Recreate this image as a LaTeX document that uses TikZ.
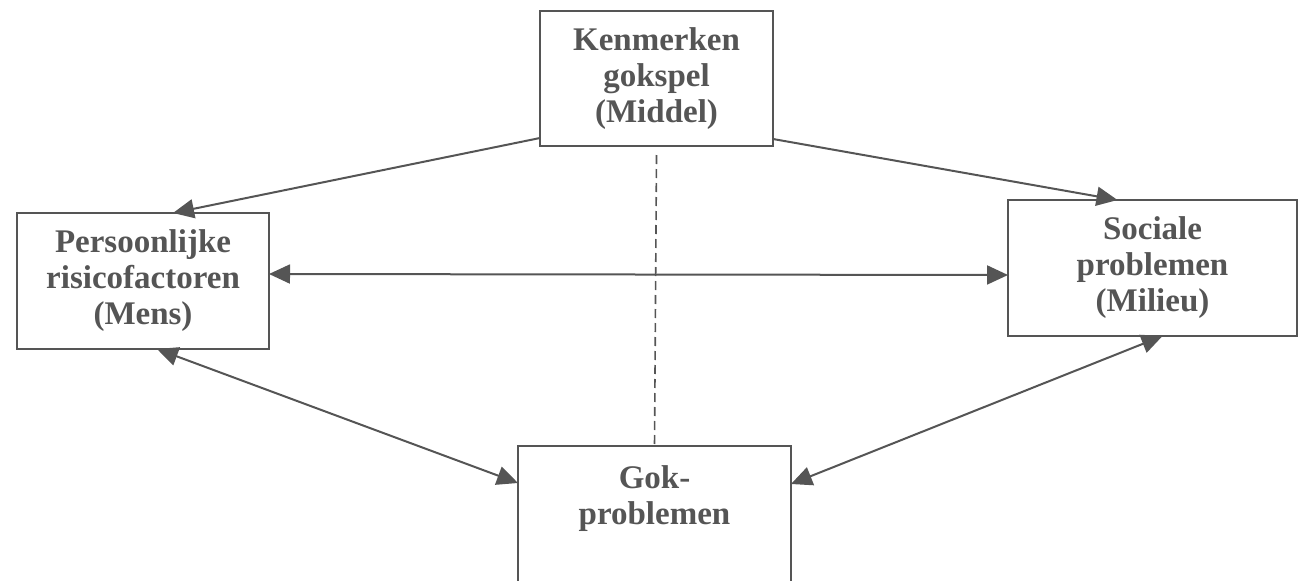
\documentclass[tikz,border=0pt]{standalone}
\usepackage{fontspec}
\setmainfont{Liberation Serif}
\usetikzlibrary{arrows.meta, calc}
\definecolor{ink}{HTML}{555555}
\begin{document}
\begin{tikzpicture}[x = .5pt, y = .5pt, >={Triangle[length=10.5pt,width=9.5pt]},
    boxstyle/.style={draw=ink,line width=1pt,inner sep=0pt,outer sep=0pt,text=ink,align=center,font=\bfseries\fontsize{16.5pt}{18pt}\selectfont},
    linkstyle/.style={draw=ink,line width=1pt}]
    \useasboundingbox (0,0) rectangle (1299,580);
    \clip (0,0) rectangle (1299,580);
    \node[boxstyle,minimum width=116.5pt,minimum height=67.5pt] (mid) at (656.5,501.5) {Kenmerken\\gokspel\\(Middel)};
    \node[boxstyle,minimum width=126pt,minimum height=68pt] (mens) at (143,299) {Persoonlijke\\risicofactoren\\(Mens)};
    \node[boxstyle,minimum width=144.5pt,minimum height=68pt] (milieu) at (1152.5,312) {Sociale\\problemen\\(Milieu)};
    \node[boxstyle,minimum width=136.5pt,minimum height=77pt,anchor=north,
      label={[boxstyle,draw=none,anchor=north,yshift=-10pt]north:{Gok-\\problemen}}] (gok) at (654.5,134) {};
    % pijlen
    \draw[linkstyle,->] ($(mid.south west)+(0,8)$) -- ($(mens.north)+(30,0)$);
    \draw[linkstyle,->] ($(mid.south east)+(0,7)$) -- ($(milieu.north)+(-35,0)$);
    \draw[linkstyle,<->] ($(mens.east)+(0,7)$) -- ($(milieu.west)+(0,-7)$);
    \draw[linkstyle,<->] ($(mens.south)+(14,0)$) -- ($(gok.north west)+(0,-37)$);
    \draw[linkstyle,<->] ($(milieu.south)+(10,0)$) -- ($(gok.north east)+(0,-38)$);
    \draw[draw=ink,line width=.8pt,dash pattern=on 4.5pt off 2.5pt] ($(mid.south)+(0,-9)$) -- (gok.north);
\end{tikzpicture}
\end{document}
